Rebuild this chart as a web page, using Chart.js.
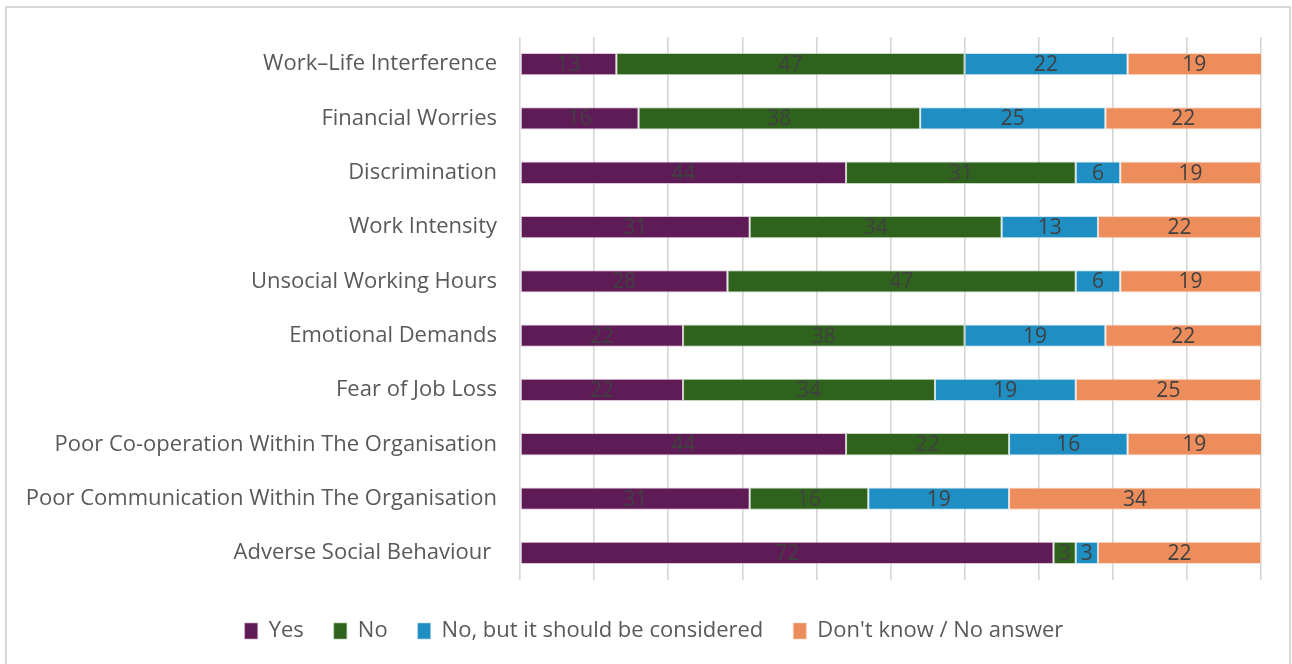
<!DOCTYPE html>
<html>
<head>
<meta charset="utf-8">
<script src="https://cdn.jsdelivr.net/npm/chart.js@4/dist/chart.umd.min.js"></script>
<style>
  html, body { margin: 0; padding: 0; background: #fff; overflow: hidden; }
  #frame {
    position: absolute; left: 5px; top: 6px; width: 1286px; height: 720px;
    border: 2px solid #d9d9d9; box-sizing: border-box; pointer-events: none;
  }
  #stress-chart { position: absolute; left: 0; top: 0; }
</style>
</head>
<body>
<canvas id="stress-chart" width="1292" height="664"></canvas>
<div id="frame"></div>
<script>
const categories = [
  'Work\u2013Life Interference',
  'Financial Worries',
  'Discrimination',
  'Work Intensity',
  'Unsocial Working Hours',
  'Emotional Demands',
  'Fear of Job Loss',
  'Poor Co-operation Within The Organisation',
  'Poor Communication Within The Organisation',
  'Adverse Social Behaviour ',
];

const yes = [13, 16, 44, 31, 28, 22, 22, 44, 31, 72];
const no = [47, 38, 31, 34, 47, 38, 34, 22, 16, 3];
const noButConsider = [22, 25, 6, 13, 6, 19, 19, 16, 19, 3];
const dontKnow = [19, 22, 19, 22, 19, 22, 25, 19, 34, 22];

const FONT = "'Open Sans', 'Liberation Sans', Arial, sans-serif";

// writes each segment's value in the middle of the segment
const segmentLabels = {
  id: 'segmentLabels',
  afterDatasetsDraw(chart) {
    const ctx = chart.ctx;
    const area = chart.chartArea;
    ctx.save();
    ctx.font = '21px ' + FONT;
    ctx.fillStyle = '#404040';
    ctx.textAlign = 'center';
    ctx.textBaseline = 'middle';
    chart.data.datasets.forEach((ds, i) => {
      chart.getDatasetMeta(i).data.forEach((bar, j) => {
        const right = Math.min(bar.x, area.right);
        const x = (right + bar.base) / 2;
        ctx.fillText(String(ds.data[j]), x, bar.y + 1);
      });
    });
    ctx.restore();
  },
};

// centre the legend under the middle of the frame rather than the whole canvas
const legendOffset = {
  id: 'legendOffset',
  afterLayout(chart) {
    const lg = chart.legend;
    lg.left = 47;
    lg.right = chart.chartArea.right;
    lg.width = lg.right - lg.left;
  },
};

const ctx = document.getElementById('stress-chart');

new Chart(ctx, {
  type: 'bar',
  data: {
    labels: categories,
    datasets: [
      { label: 'Yes', data: yes, backgroundColor: '#5f1b56', borderColor: 'rgba(200,160,195,0.6)' },
      { label: 'No', data: no, backgroundColor: '#2f631d', borderColor: 'rgba(160,190,150,0.6)' },
      { label: 'No, but it should be considered', data: noButConsider, backgroundColor: '#1f8ec2', borderColor: 'rgba(170,210,235,0.6)' },
      { label: "Don't know / No answer", data: dontKnow, backgroundColor: '#ee8d5c', borderColor: 'rgba(250,200,175,0.6)' },
    ],
  },
  options: {
    indexAxis: 'y',
    responsive: false,
    animation: false,
    layout: { padding: { top: 37, right: 31, bottom: 12, left: 0 } },
    datasets: {
      bar: {
        barPercentage: 0.41,
        categoryPercentage: 1,
        borderWidth: 1,
        borderSkipped: false,
      },
    },
    scales: {
      x: {
        stacked: true,
        min: 0,
        max: 100,
        ticks: { display: false, stepSize: 10 },
        grid: { color: '#d6d6d6', lineWidth: 1.6, drawTicks: false },
        border: { display: false },
        afterFit(scale) { scale.height = 10; },
      },
      y: {
        stacked: true,
        grid: { display: false, drawTicks: false },
        border: { display: false },
        ticks: { color: '#595959', font: { family: FONT, size: 22 }, padding: 23 },
        afterFit(scale) { scale.width = 520; },
      },
    },
    plugins: {
      legend: {
        position: 'bottom',
        labels: {
          color: '#595959',
          font: { family: FONT, size: 22 },
          boxWidth: 13,
          boxHeight: 16,
          padding: 30,
        },
      },
      tooltip: { enabled: false },
    },
  },
  plugins: [segmentLabels, legendOffset],
});
</script>
</body>
</html>
